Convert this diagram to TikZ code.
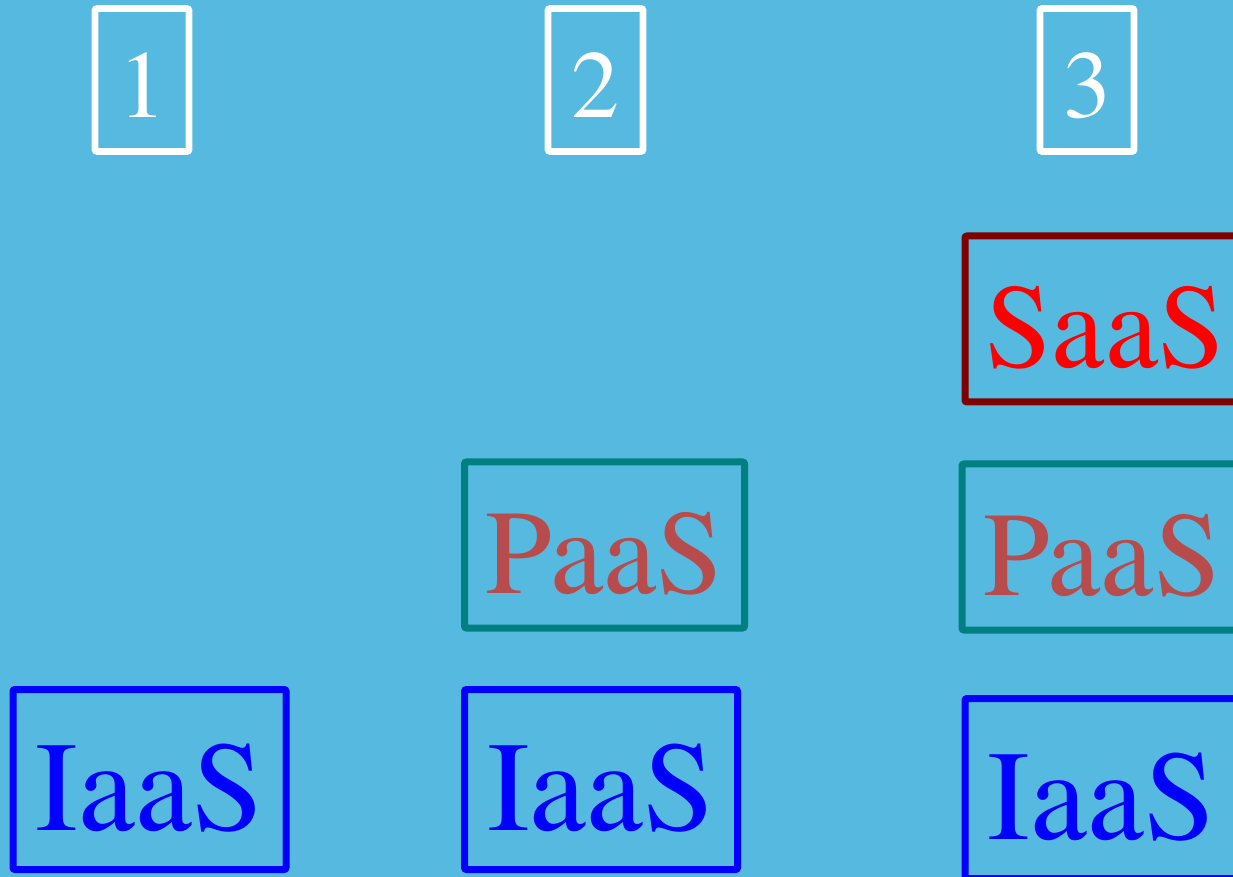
\documentclass[tikz,border=0pt]{standalone}
\usepackage{fontspec}
\setmainfont{TeX Gyre Termes}
\definecolor{skybg}{RGB}{86,186,224}
\definecolor{paastext}{RGB}{184,76,76}
\definecolor{saasedge}{RGB}{128,0,0}
\definecolor{paasedge}{RGB}{0,128,128}

\begin{document}
\begin{tikzpicture}[x=0.5pt,y=-0.5pt]
	\tikzstyle{num} = [draw=white, text=white, line width=3.3pt, rounded corners=1pt, minimum width=47pt, minimum height=71.5pt, inner sep=0pt, text height=38pt, text depth=0pt, font=\fontsize{48}{48}\selectfont]
	\tikzstyle{layer} = [draw, line width=3.5pt, rounded corners=1pt, minimum width=140pt, minimum height=83pt, inner sep=0pt, text height=48.5pt, text depth=0pt, font=\fontsize{60}{60}\selectfont]
	\tikzstyle{saas} = [layer, draw=saasedge, text=red]
	\tikzstyle{paas} = [layer, draw=paasedge, text=paastext]
	\tikzstyle{iaas} = [layer, draw=blue, text=blue, minimum width=136.5pt, minimum height=90pt, text height=51pt, font=\fontsize{64}{64}\selectfont]
	
	\useasboundingbox (0,0) rectangle (1233,877);
	\fill [skybg] (0,0) rectangle (1233,877);
	\clip (0,0) rectangle (1233,877);
	
	\node [num] (one) at (142,80) {1};
	\node [num, minimum width=47.5pt] (two) at (595.5,80) {2};
	\node [num] (three) at (1087,80) {3};
	
	\node [saas] (saas3) at (1105,319) {SaaS};
	
	\node [paas] (paas2) at (604.5,545) {PaaS};
	\node [paas] (paas3) at (1102,547) {PaaS};
	
	\node [iaas] (iaas1) at (149.5,779.5) {IaaS};
	\node [iaas] (iaas2) at (601,779.5) {IaaS};
	\node [iaas] (iaas3) at (1101.5,788.5) {IaaS};
\end{tikzpicture}
\end{document}
